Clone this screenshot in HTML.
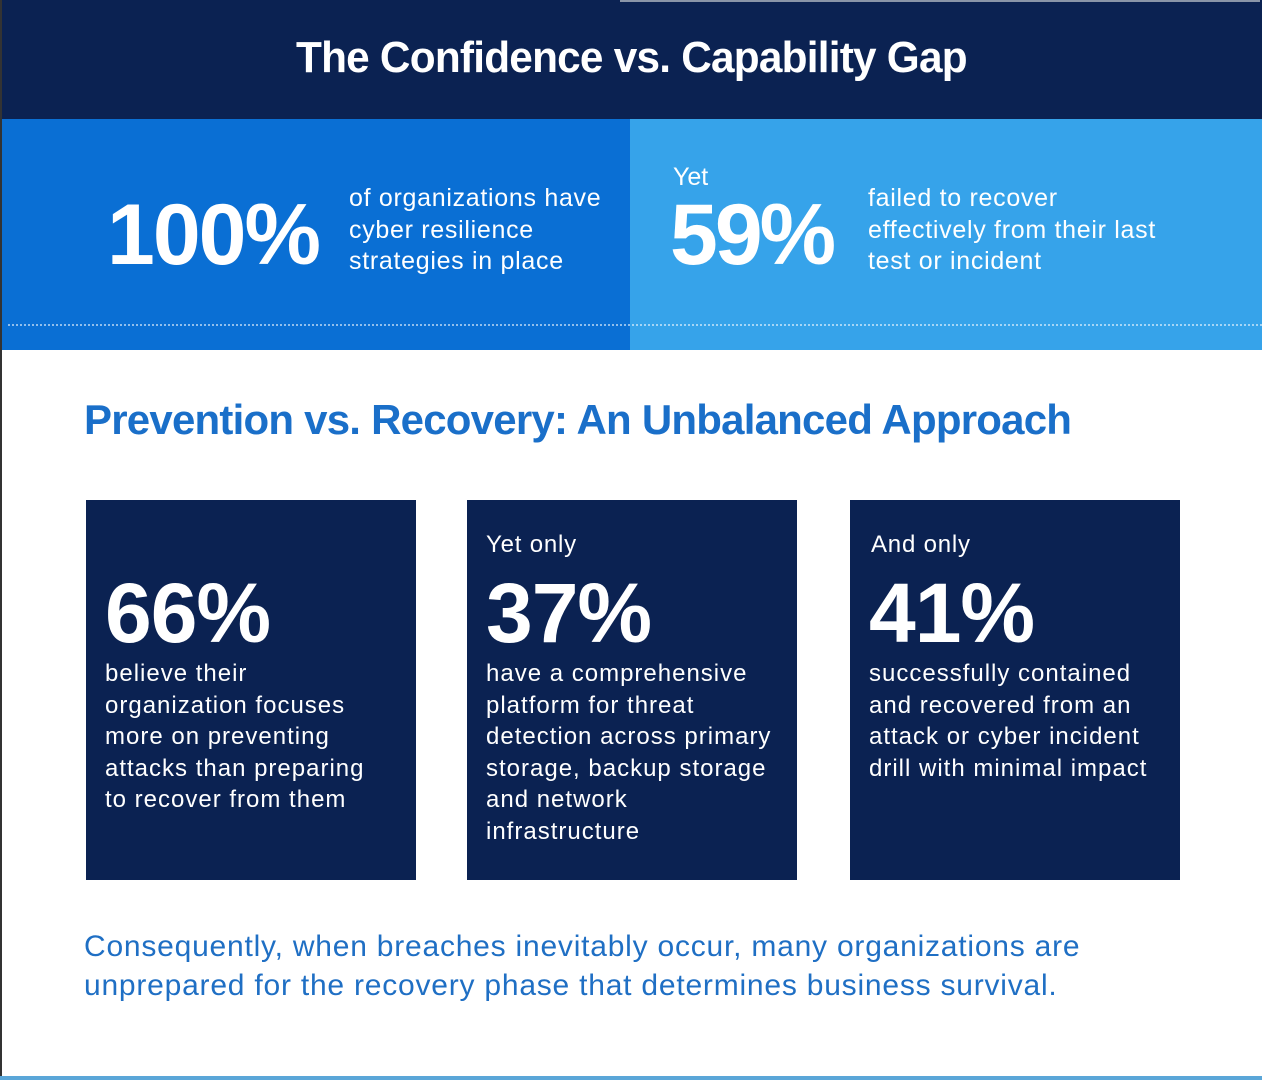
<!DOCTYPE html>
<html><head><meta charset="utf-8"><style>
*{margin:0;padding:0;box-sizing:border-box}
body{width:1262px;height:1080px;position:relative;background:#fff;font-family:"Liberation Sans",Arial,sans-serif;overflow:hidden}
.a{position:absolute;white-space:nowrap;transform-origin:0 0}
.w{color:#fff}
.card{position:absolute;top:500px;width:330px;height:380px;background:#0b2252}
.big{font-weight:bold;font-size:84px;letter-spacing:-1px;line-height:1}
.body{font-size:24px;line-height:31.5px;letter-spacing:1px}
</style></head><body>
<div class="a" style="left:0;top:0;width:1262px;height:119px;background:#0b2252"></div>
<div class="a" style="left:620px;top:0;width:640px;height:2px;background:#8a95a8"></div>
<div class="a" style="left:0;top:119px;width:630px;height:231px;background:#0a6fd4"></div>
<div class="a" style="left:630px;top:119px;width:632px;height:231px;background:#36a3ea"></div>
<div class="a" style="left:8px;top:324px;width:1254px;border-top:2px dotted rgba(255,255,255,0.55)"></div>
<div class="a" style="left:0;top:0;width:2px;height:1080px;background:#333"></div>
<div class="a" style="left:0;top:1076px;width:1262px;height:4px;background:#5aa6d8"></div>

<div class="a w" style="left:296px;top:33px;font-size:44px;font-weight:bold;letter-spacing:-0.8px;transform:scaleX(0.962)">The Confidence vs. Capability Gap</div>

<div class="a w" style="left:107px;top:192px;font-size:86px;font-weight:bold;letter-spacing:-2px;line-height:1">100%</div>
<div class="a w" style="left:349px;top:183px;font-size:25px;line-height:31.5px;letter-spacing:0.7px">of organizations have<br>cyber resilience<br>strategies in place</div>

<div class="a w" style="left:673px;top:163px;font-size:25px">Yet</div>
<div class="a w" style="left:670px;top:192px;font-size:86px;font-weight:bold;letter-spacing:-3px;line-height:1">59%</div>
<div class="a w" style="left:868px;top:183px;font-size:25px;line-height:31.5px;letter-spacing:0.7px">failed to recover<br>effectively from their last<br>test or incident</div>

<div class="a" style="left:84px;top:396px;font-size:42px;font-weight:bold;color:#1a6fc9;letter-spacing:-0.78px">Prevention vs. Recovery: An Unbalanced Approach</div>

<div class="card" style="left:86px"></div>
<div class="card" style="left:467px"></div>
<div class="card" style="left:850px"></div>

<div class="a w big" style="left:105px;top:571px">66%</div>
<div class="a w body" style="left:105px;top:658px">believe their<br>organization focuses<br>more on preventing<br>attacks than preparing<br>to recover from them</div>

<div class="a w" style="left:486px;top:531px;font-size:24px;letter-spacing:0.8px">Yet only</div>
<div class="a w big" style="left:486px;top:571px">37%</div>
<div class="a w body" style="left:486px;top:658px">have a comprehensive<br>platform for threat<br>detection across primary<br>storage, backup storage<br>and network<br>infrastructure</div>

<div class="a w" style="left:871px;top:531px;font-size:24px;letter-spacing:0.8px">And only</div>
<div class="a w big" style="left:869px;top:571px">41%</div>
<div class="a w body" style="left:869px;top:658px">successfully contained<br>and recovered from an<br>attack or cyber incident<br>drill with minimal impact</div>

<div class="a" style="left:84px;top:927px;font-size:30px;line-height:39px;color:#1f6fc4;letter-spacing:0.78px">Consequently, when breaches inevitably occur, many organizations are<br>unprepared for the recovery phase that determines business survival.</div>
</body></html>
